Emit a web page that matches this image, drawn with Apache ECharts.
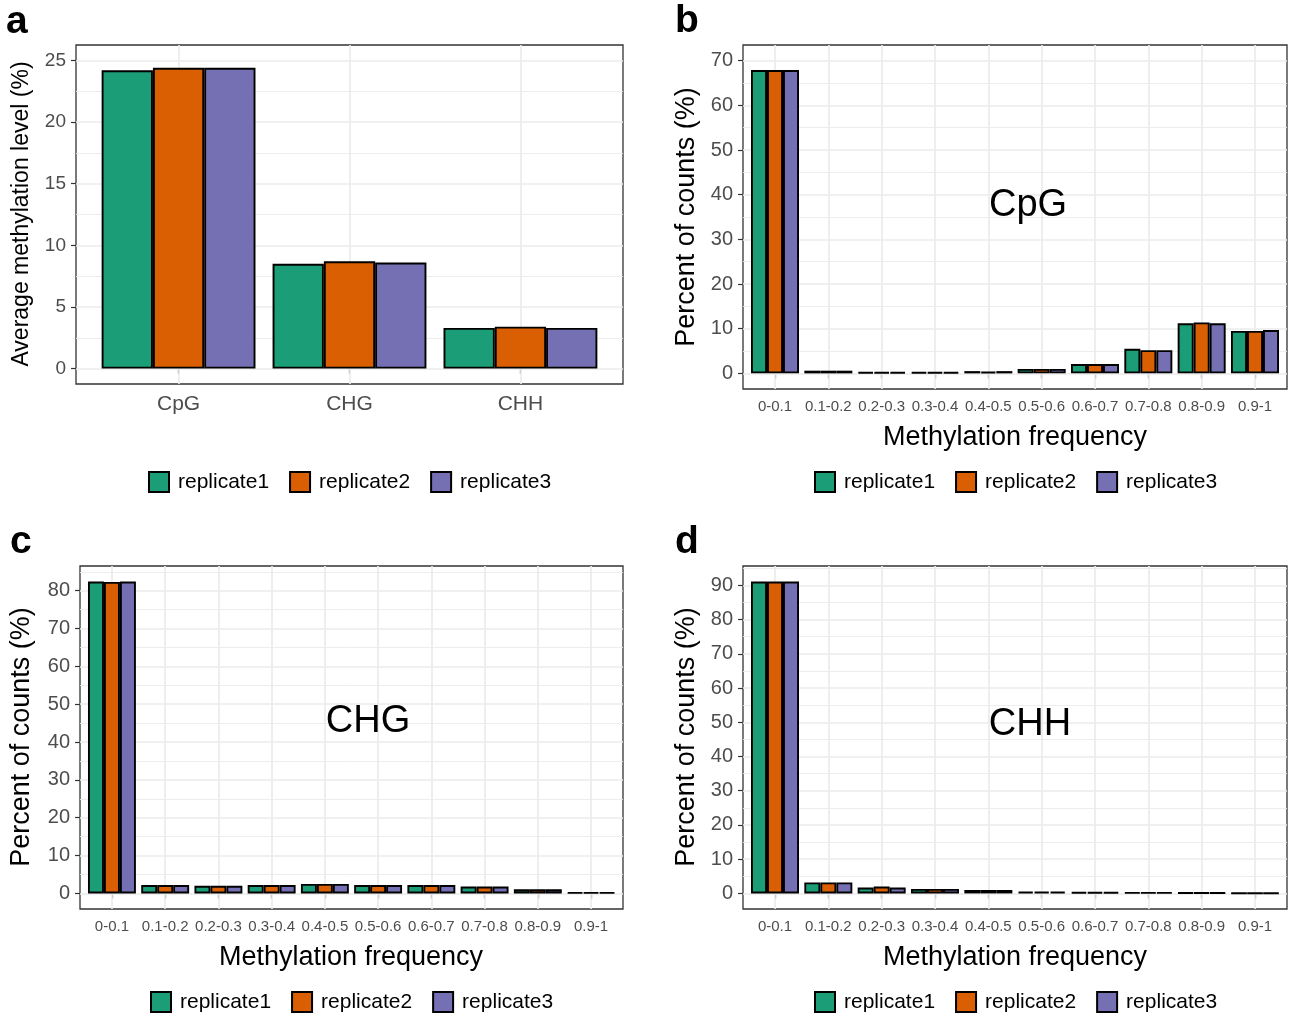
<!DOCTYPE html>
<html>
<head>
<meta charset="utf-8">
<title>Methylation levels</title>
<script src="https://cdn.jsdelivr.net/npm/echarts@6/dist/echarts.min.js"></script>
<style>
  html, body { margin: 0; padding: 0; background: #fff; }
  #main { width: 1290px; height: 1019px; }
</style>
</head>
<body>
<div id="main"></div>
<script>
// ---- data ----
var replicates = ['replicate1', 'replicate2', 'replicate3'];
var colors = ['#1b9e77', '#d95f02', '#7570b3'];

var contexts = ['CpG', 'CHG', 'CHH'];
// average methylation level (%), one array per replicate
var avgRep1 = [24.2, 8.5, 3.3];
var avgRep2 = [24.4, 8.7, 3.4];
var avgRep3 = [24.4, 8.6, 3.3];

var freqBins = ['0-0.1', '0.1-0.2', '0.2-0.3', '0.3-0.4', '0.4-0.5',
                '0.5-0.6', '0.6-0.7', '0.7-0.8', '0.8-0.9', '0.9-1'];
// percent of counts (%)
var cpgRep1 = [67.9, 0.6, 0.3, 0.3, 0.5, 1.0, 2.1, 5.5, 11.2, 9.5];
var cpgRep2 = [67.9, 0.6, 0.3, 0.3, 0.4, 1.0, 2.1, 5.2, 11.4, 9.5];
var cpgRep3 = [67.9, 0.6, 0.3, 0.3, 0.5, 1.0, 2.1, 5.2, 11.2, 9.7];

var chgRep1 = [82.4, 2.2, 2.0, 2.2, 2.5, 2.2, 2.2, 1.8, 1.1, 0.3];
var chgRep2 = [82.3, 2.2, 2.0, 2.2, 2.5, 2.2, 2.2, 1.8, 1.1, 0.3];
var chgRep3 = [82.4, 2.2, 2.0, 2.2, 2.5, 2.2, 2.2, 1.8, 1.1, 0.3];

var chhRep1 = [91.1, 3.2, 1.7, 1.3, 1.0, 0.5, 0.4, 0.3, 0.2, 0.1];
var chhRep2 = [91.1, 3.2, 2.0, 1.3, 1.0, 0.5, 0.4, 0.3, 0.2, 0.1];
var chhRep3 = [91.1, 3.2, 1.7, 1.3, 1.0, 0.5, 0.4, 0.3, 0.2, 0.1];

// y tick labels per panel
var ticksA = [0, 5, 10, 15, 20, 25];
var ticksB = [0, 10, 20, 30, 40, 50, 60, 70];
var ticksC = [0, 10, 20, 30, 40, 50, 60, 70, 80];
var ticksD = [0, 10, 20, 30, 40, 50, 60, 70, 80, 90];

// ---- layout ----
var FONT = 'Liberation Sans, Arial, sans-serif';
var panels = [
  { box: [76, 45, 623, 384], cats: contexts, series: [avgRep1, avgRep2, avgRep3],
    ticks: ticksA, top: 25, yFont: 19, xFont: 21, xMargin: 10 },
  { box: [743, 45, 1287, 389], cats: freqBins, series: [cpgRep1, cpgRep2, cpgRep3],
    ticks: ticksB, top: 70, yFont: 20, xFont: 15, xMargin: 10 },
  { box: [80, 566, 623, 909], cats: freqBins, series: [chgRep1, chgRep2, chgRep3],
    ticks: ticksC, top: null, yFont: 20, xFont: 15, xMargin: 10 },
  { box: [743, 566, 1287, 909], cats: freqBins, series: [chhRep1, chhRep2, chhRep3],
    ticks: ticksD, top: null, yFont: 20, xFont: 15, xMargin: 10 }
];

var grids = [], xAxes = [], yAxes = [], series = [];

panels.forEach(function (p) {
  var L = p.box[0], T = p.box[1], R = p.box[2], B = p.box[3];
  var dataMax = p.top !== null ? p.top : Math.max.apply(null, p.series[0].concat(p.series[1], p.series[2]));
  var pad = dataMax * 0.05;
  var lo = -pad, hi = dataMax + pad;
  var yOf = function (v) { return T + (hi - v) / (hi - lo) * (B - T); };
  var n = p.cats.length;
  // discrete axis spans 0.4 .. n + 0.6 (ggplot expansion)
  var unit = (R - L) / (n + 0.2);

  // background grid: panel border + horizontal grid lines
  var gBg = grids.length;
  grids.push({ left: L, top: T, width: R - L, height: B - T, show: true, outerBoundsMode: 'none',
               containLabel: false, borderColor: '#333333', borderWidth: 1.3 });
  xAxes.push({ gridIndex: gBg, type: 'value', min: 0, max: 1, show: false });
  yAxes.push({ gridIndex: gBg, type: 'value', min: lo, max: hi, show: false });
  var step = p.ticks[1] - p.ticks[0];
  var hLines = [];
  for (var v = 0; v <= hi; v += step / 2) {
    var major = Math.abs(v / step - Math.round(v / step)) < 1e-6;
    hLines.push({ yAxis: v, lineStyle: { color: '#ebebeb', width: major ? 1.7 : 0.9, type: 'solid' } });
  }
  series.push({ type: 'line', xAxisIndex: gBg, yAxisIndex: gBg, data: [[0.5, 0]],
    showSymbol: false, lineStyle: { opacity: 0 }, silent: true, z: 1, animation: false,
    markLine: { silent: true, z: 1, symbol: ['none', 'none'], label: { show: false },
                animation: false, data: hLines } });

  // bar grid
  var gBar = grids.length;
  grids.push({ left: L + 0.1 * unit, top: T, width: n * unit, height: B - T,
               outerBoundsMode: 'none', containLabel: false });
  xAxes.push({ gridIndex: gBar, type: 'category', data: p.cats,
    axisLine: { show: false },
    axisTick: { show: true, alignWithLabel: true, length: 5, lineStyle: { color: '#333333', width: 1.2 } },
    axisLabel: { interval: 0, hideOverlap: false, margin: p.xMargin, fontSize: p.xFont,
                 color: '#4d4d4d', fontFamily: FONT },
    splitLine: { show: false } });
  yAxes.push({ gridIndex: gBar, type: 'value', min: lo, max: hi, show: false });
  series.push({ type: 'line', xAxisIndex: gBar, yAxisIndex: gBar, data: [],
    showSymbol: false, silent: true, z: 1, animation: false,
    markLine: { silent: true, z: 1, symbol: ['none', 'none'], label: { show: false }, animation: false,
      data: p.cats.map(function (c) {
        return { xAxis: c, lineStyle: { color: '#ebebeb', width: 1.7, type: 'solid' } };
      }) } });
  p.series.forEach(function (vals, i) {
    series.push({ type: 'bar', name: replicates[i], xAxisIndex: gBar, yAxisIndex: gBar,
      data: vals, barGap: '0%', barCategoryGap: '10%', z: 10, animation: false, clip: false,
      itemStyle: { color: colors[i], borderColor: '#000000', borderWidth: 1.9 } });
  });

  // tick grid: y labels
  var gTick = grids.length;
  var yTop = yOf(p.ticks[p.ticks.length - 1]), yZero = yOf(0);
  grids.push({ left: L, top: yTop, width: R - L, height: yZero - yTop,
               outerBoundsMode: 'none', containLabel: false });
  xAxes.push({ gridIndex: gTick, type: 'value', min: 0, max: 1, show: false });
  yAxes.push({ gridIndex: gTick, type: 'value', min: 0, max: p.ticks[p.ticks.length - 1],
    interval: step, axisLine: { show: false },
    axisTick: { show: true, length: 5, lineStyle: { color: '#333333', width: 1.2 } },
    axisLabel: { margin: 10, fontSize: p.yFont, color: '#4d4d4d', fontFamily: FONT },
    splitLine: { show: false } });
});

function txt(x, y, s, size, opts) {
  opts = opts || {};
  return { type: 'text', x: x, y: y, z: 100, rotation: opts.rot || 0, silent: true,
    style: { text: s, fontSize: size, fontFamily: FONT, fontWeight: opts.bold ? 'bold' : 'normal',
             fill: '#000', align: opts.align || 'center', verticalAlign: opts.va || 'middle' } };
}

var graphics = [
  txt(6, 22, 'a', 39, { bold: true, align: 'left' }),
  txt(675, 21, 'b', 39, { bold: true, align: 'left' }),
  txt(10, 542, 'c', 39, { bold: true, align: 'left' }),
  txt(675, 542, 'd', 39, { bold: true, align: 'left' }),
  txt(22, 214, 'Average methylation level (%)', 23, { rot: Math.PI / 2 }),
  txt(687, 217, 'Percent of counts (%)', 27, { rot: Math.PI / 2 }),
  txt(22, 737, 'Percent of counts (%)', 27, { rot: Math.PI / 2 }),
  txt(687, 737, 'Percent of counts (%)', 27, { rot: Math.PI / 2 }),
  txt(1015, 438, 'Methylation frequency', 27),
  txt(351, 958, 'Methylation frequency', 27),
  txt(1015, 958, 'Methylation frequency', 27),
  txt(1028, 206, 'CpG', 38),
  txt(368, 722, 'CHG', 38),
  txt(1030, 725, 'CHH', 38)
];

function legendAt(left, top) {
  return { left: left, top: top, data: replicates, icon: 'rect', itemWidth: 20, itemHeight: 20,
    itemGap: 20, selectedMode: false,
    textStyle: { fontSize: 21, color: '#000', fontFamily: FONT, padding: [0, 0, 0, 4] } };
}

var option = {
  backgroundColor: '#ffffff',
  animation: false,
  grid: grids,
  xAxis: xAxes,
  yAxis: yAxes,
  legend: [legendAt(143, 466), legendAt(809, 466), legendAt(145, 986), legendAt(809, 986)],
  series: series,
  graphic: graphics
};

var chart = echarts.init(document.getElementById('main'));
chart.setOption(option);
</script>
</body>
</html>
